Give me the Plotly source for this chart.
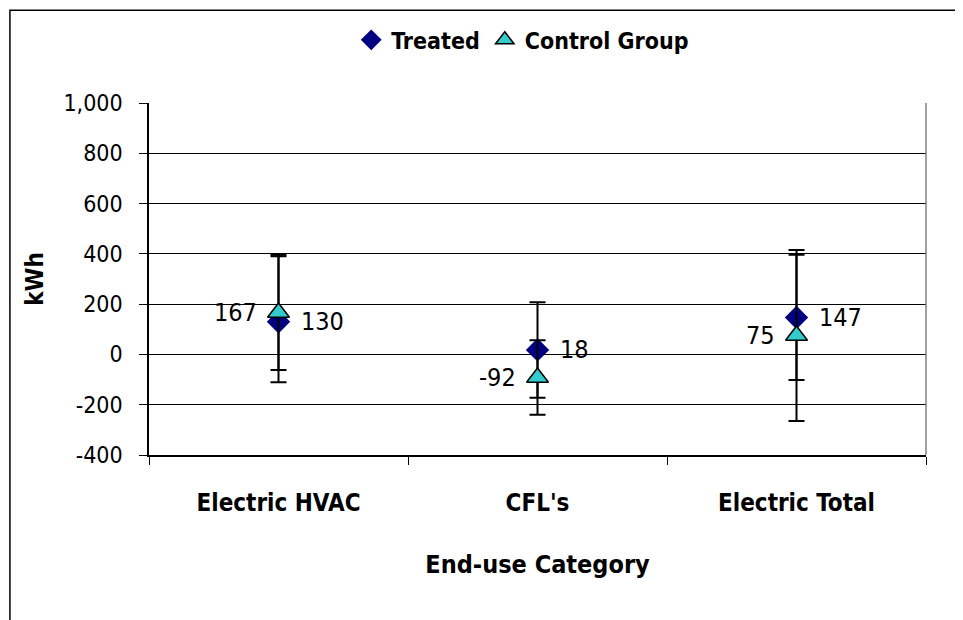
import plotly.graph_objects as go

categories = ["Electric HVAC", "CFL's", "Electric Total"]
treated = [130, 18, 147]
treated_err_plus = [260, 190, 249]
treated_err_minus = [241, 190, 249]
control = [167, -92, 75]
control_err_plus = [229, 148, 340]
control_err_minus = [229, 148, 340]
y_ticks = [-400, -200, 0, 200, 400, 600, 800, 1000]
y_tick_labels = ["-400", "-200", "0", "200", "400", "600", "800", "1,000"]

FONT = "DejaVu Sans Condensed, Liberation Sans Narrow, Arial Narrow, sans-serif"

fig = go.Figure()
fig.add_trace(go.Scatter(
    x=categories, y=treated, name="Treated", mode="markers",
    marker=dict(symbol="diamond", size=18, color="#000080", line=dict(width=0)),
    error_y=dict(type="data", symmetric=False, array=treated_err_plus,
                 arrayminus=treated_err_minus, color="black", thickness=2, width=8),
))
fig.add_trace(go.Scatter(
    x=categories, y=control, name="Control Group", mode="markers",
    marker=dict(symbol="triangle-up", size=19, color="#33CCCC",
                line=dict(width=1.5, color="black")),
    error_y=dict(type="data", symmetric=False, array=control_err_plus,
                 arrayminus=control_err_minus, color="black", thickness=2, width=8),
))

annotations = []
for c, v in zip(categories, treated):
    annotations.append(dict(x=c, y=v, xref="x", yref="y", text=str(v), showarrow=False,
                            xanchor="left", yanchor="middle", xshift=20,
                            font=dict(family=FONT, size=25, color="black")))
for c, v in zip(categories, control):
    annotations.append(dict(x=c, y=v, xref="x", yref="y", text=str(v), showarrow=False,
                            xanchor="right", yanchor="middle", xshift=-20,
                            font=dict(family=FONT, size=25, color="black")))

fig.update_layout(
    width=963, height=620,
    margin=dict(l=141, r=45, t=94, b=173),
    paper_bgcolor="white", plot_bgcolor="white",
    font=dict(family=FONT, size=20, color="black"),
    showlegend=True,
    annotations=annotations,
    legend=dict(orientation="h", x=0.481, xanchor="center", y=1.176, yanchor="middle",
                font=dict(family=FONT, size=23, color="black", weight="bold"),
                itemsizing="trace", itemwidth=30),
    xaxis=dict(
        type="category", tickson="boundaries", ticks="outside", ticklen=8,
        tickcolor="black", showline=True, linecolor="black", linewidth=1.5,
        showgrid=False, range=[-0.5, 2.5], ticklabelstandoff=25,
        tickfont=dict(family=FONT, size=24, weight="bold"),
        title=dict(text="End-use Category", standoff=40,
                   font=dict(family=FONT, size=25, weight="bold")),
    ),
    yaxis=dict(
        range=[-400, 1000], tickvals=y_ticks, ticktext=y_tick_labels,
        ticks="outside", ticklen=8, tickcolor="black",
        showline=True, linecolor="black", linewidth=1.5,
        showgrid=True, gridcolor="black", gridwidth=1, zeroline=False,
        ticklabelstandoff=12,
        tickfont=dict(family=FONT, size=23),
        title=dict(text="kWh", standoff=13,
                   font=dict(family=FONT, size=24, weight="bold")),
    ),
    shapes=[
        dict(type="line", xref="paper", yref="paper", x0=1, x1=1, y0=0, y1=1,
             line=dict(color="#808080", width=1.5)),
        dict(type="rect", xref="paper", yref="paper", x0=-0.179, x1=1.3,
             y0=-0.7, y1=1.2635, line=dict(color="black", width=1.5)),
    ],
)

fig.write_html("out.html")
